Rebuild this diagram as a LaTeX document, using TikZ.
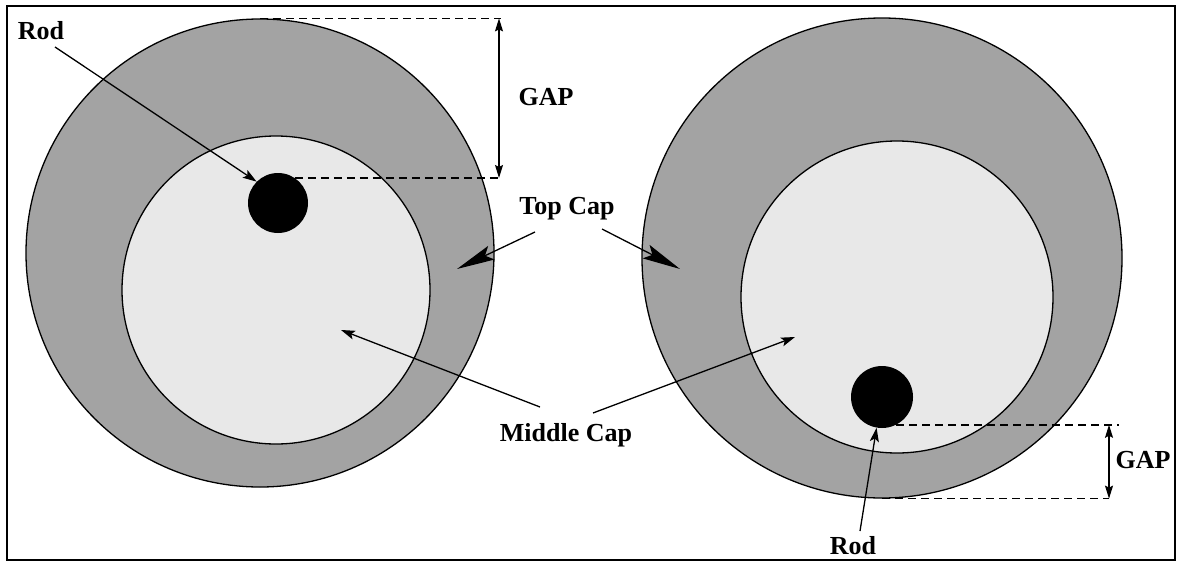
\documentclass[tikz,border=0pt]{standalone}
\usepackage{fontspec}
\setmainfont{Liberation Serif}
\usetikzlibrary{arrows.meta}
\definecolor{outergray}{gray}{0.64}
\definecolor{innergray}{gray}{0.91}
\begin{document}
\begin{tikzpicture}[x=1pt,y=-1pt,
  lbl/.style={font=\fontsize{26}{30}\selectfont\bfseries, inner sep=0pt},
  thinarrow/.style={line width=1.3pt,-{Stealth[length=14pt,width=9pt,inset=3pt]}},
  bigarrow/.style={line width=1.3pt,-{Stealth[length=38pt,width=15pt,inset=7pt]}},
  gaparrow/.style={line width=1.3pt,{Stealth[length=13pt,width=8pt,inset=2pt]}-{Stealth[length=13pt,width=8pt,inset=2pt]}},
  dimline/.style={line width=1.4pt,dash pattern=on 8pt off 5pt},
  ring/.style={circle,draw,line width=1.3pt,fill=outergray,inner sep=0pt},
  core/.style={circle,draw,line width=1.3pt,fill=innergray,inner sep=0pt},
  rodc/.style={circle,fill=black,inner sep=0pt},
]
\useasboundingbox (0,0) rectangle (1177,562);
\fill[white] (0,0) rectangle (1177,562);
\draw[line width=1.3pt] (7,6) rectangle (1175,560);

% left assembly
\node[ring, minimum size=468pt] (outerL) at (260,253) {};
\node[core, minimum size=308pt] (innerL) at (276,290) {};
\node[rodc, minimum size=60pt] (rodL) at (278,203) {};

% right assembly
\node[ring, minimum size=480pt] (outerR) at (882,258) {};
\node[core, minimum size=312pt] (innerR) at (897,297) {};
\node[rodc, minimum size=62pt] (rodR) at (882,397) {};

% left gap dimension
\coordinate (gLend) at (501,0);
\coordinate (gLx) at (499,0);
\draw[dimline] (outerL.north) -- (outerL.north -| gLend);
\draw[dimline] (rodL.56) -- (rodL.56 -| gLend);
\draw[gaparrow] (outerL.north -| gLx) -- (rodL.56 -| gLx);

% right gap dimension
\coordinate (gRtop) at (1119,0);
\coordinate (gRx) at (1109,0);
\draw[dimline] (rodR.-63) -- (rodR.-63 -| gRtop);
\draw[dimline] (outerR.south) -- (outerR.south -| gRx);
\draw[gaparrow] (rodR.-63 -| gRx) -- (outerR.south -| gRx);

% labels
\node[lbl] (rodLbl) at (41,31) {Rod};
\node[lbl] (gapL) at (546,97) {GAP};
\node[lbl] (topcap) at (567,209) {Top Cap};
\node[lbl] (midcap) at (566,435) {Middle Cap};
\node[lbl] (rodRlbl) at (853,546) {Rod};
\node[lbl] (gapR) at (1143,460) {GAP};

% arrow endpoints
\coordinate (rodLs) at (55,47);
\coordinate (tcLs) at (535,232);
\coordinate (tcLe) at (457,269);
\coordinate (tcRs) at (602,229);
\coordinate (tcRe) at (680,269);
\coordinate (mcLs) at (540,407);
\coordinate (mcLe) at (341,330);
\coordinate (mcRs) at (593,413);
\coordinate (mcRe) at (795,337);
\coordinate (rodRs) at (860,531);

\draw[thinarrow] (rodLs) -- (rodL.135);
\draw[bigarrow] (tcLs) -- (tcLe);
\draw[bigarrow] (tcRs) -- (tcRe);
\draw[thinarrow] (mcLs) -- (mcLe);
\draw[thinarrow] (mcRs) -- (mcRe);
\draw[thinarrow] (rodRs) -- (rodR.-100);
\end{tikzpicture}
\end{document}
